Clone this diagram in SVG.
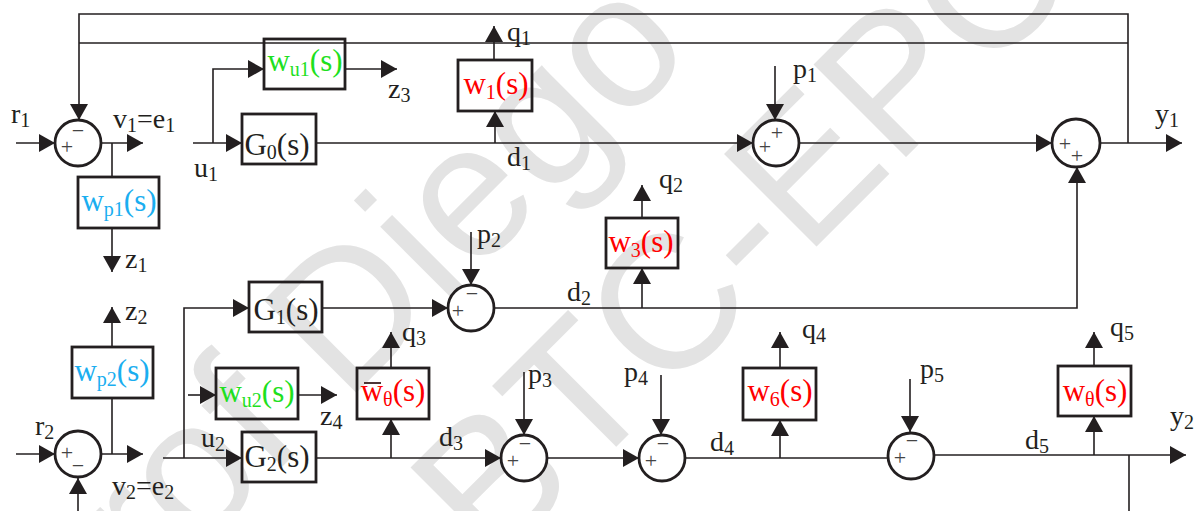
<svg xmlns="http://www.w3.org/2000/svg" width="1194" height="511" viewBox="0 0 1194 511">
<defs>
<style>
.wm{font-family:"Liberation Sans",Arial,sans-serif;font-size:190px;fill:#e3e3e3}
.ln{fill:none;stroke:#231f20;stroke-width:1.6}
.bx{fill:none;stroke:#231f20;stroke-width:2.8}
.sm{fill:#fff;stroke:#231f20;stroke-width:2.8}
.t{font-family:"Liberation Serif","Times New Roman",serif;font-size:28px;fill:#231f20}
.bt{font-family:"Liberation Serif","Times New Roman",serif;font-size:31px;text-anchor:middle}
.s{font-size:20px}
.sg{font-family:"Liberation Serif",serif;font-size:22px;fill:#444;text-anchor:middle;dominant-baseline:central}
.red{fill:#ff0000}.grn{fill:#1ee01e}.cyn{fill:#1aaef0}.blk{fill:#231f20}
</style>
<marker id="ah" markerUnits="userSpaceOnUse" viewBox="0 0 16 18" markerWidth="16" markerHeight="18" refX="16" refY="9" orient="auto"><path d="M0,0 L16,9 L0,18 z" fill="#231f20"/></marker>
</defs>
<rect width="1194" height="511" fill="#fff"/>
<g id="watermark">
<text class="wm" transform="translate(345,404) rotate(-45)" x="-401">Prof Diego</text>
<text class="wm" transform="translate(492,571) rotate(-45)">BTC-EPC</text>
</g>
<g id="connectors" class="ln" marker-end="url(#ah)">
<path d="M1128,143 V14 H79 V120"/>
<path d="M1128,43 H79" marker-end="none"/>
<path d="M16,143 H55"/>
<path d="M101,143 H143"/>
<path d="M112,143 V177" marker-end="none"/>
<path d="M112,228 V272"/>
<path d="M193,143 H242"/>
<path d="M213,143 V69 H264"/>
<path d="M345,69 H397"/>
<path d="M316,143 H753"/>
<path d="M495,143 V111"/>
<path d="M494,60 V26"/>
<path d="M775,66 V120"/>
<path d="M799,143 H1052"/>
<path d="M1100,143 H1182"/>
<path d="M184,458 V308 H249"/>
<path d="M322,308 H448"/>
<path d="M471,232 V285"/>
<path d="M494,308 H1077 V167"/>
<path d="M642,308 V268"/>
<path d="M642,218 V185"/>
<path d="M16,454 H55"/>
<path d="M101,454 H143"/>
<path d="M78,511 V478"/>
<path d="M112,454 V398" marker-end="none"/>
<path d="M112,347 V307"/>
<path d="M163,458 H242"/>
<path d="M188,395 H216"/>
<path d="M298,395 H337"/>
<path d="M316,458 H501"/>
<path d="M391,458 V419"/>
<path d="M391,368 V332"/>
<path d="M524,372 V435"/>
<path d="M547,458 H639"/>
<path d="M661,375 V435"/>
<path d="M685,458 H888" marker-end="none"/>
<path d="M780,458 V420"/>
<path d="M780,368 V332"/>
<path d="M910,379 V432"/>
<path d="M934,455 H1186"/>
<path d="M1094,455 V416"/>
<path d="M1094,366 V332"/>
<path d="M1129,455 V511" marker-end="none"/>
</g>
<g id="sum1"><circle class="sm" cx="78" cy="143" r="23"/><text class="sg" x="67" y="146">+</text><text class="sg" x="78" y="130">−</text></g>
<g id="sumP1"><circle class="sm" cx="776" cy="143" r="23"/><text class="sg" x="765" y="146">+</text><text class="sg" x="777" y="132">+</text></g>
<g id="sumY1"><circle class="sm" cx="1076" cy="143" r="24"/><text class="sg" x="1065" y="143">+</text><text class="sg" x="1077" y="155">+</text></g>
<g id="sumP2"><circle class="sm" cx="471" cy="308" r="23"/><text class="sg" x="458" y="310">+</text><text class="sg" x="472" y="293">−</text></g>
<g id="sum2"><circle class="sm" cx="78" cy="454" r="23"/><text class="sg" x="67" y="452">+</text><text class="sg" x="78" y="465">−</text></g>
<g id="sumP3"><circle class="sm" cx="524" cy="458" r="23"/><text class="sg" x="513" y="460">+</text><text class="sg" x="525" y="443">−</text></g>
<g id="sumP4"><circle class="sm" cx="662" cy="458" r="23"/><text class="sg" x="651" y="460">+</text><text class="sg" x="663" y="443">−</text></g>
<g id="sumP5"><circle class="sm" cx="911" cy="456" r="23"/><text class="sg" x="900" y="457">+</text><text class="sg" x="912" y="440">−</text></g>
<g id="G0"><rect class="bx" x="242" y="114" width="74" height="50"/><text class="bt blk" x="277" y="155">G<tspan class="s" dy="4">0</tspan><tspan dy="-4">(s)</tspan></text></g>
<g id="wu1"><rect class="bx" x="264" y="39" width="81" height="50"/><text class="bt grn" x="305" y="71">w<tspan class="s" dy="5">u1</tspan><tspan dy="-5">(s)</tspan></text></g>
<g id="wp1"><rect class="bx" x="78" y="177" width="81" height="51"/><text class="bt cyn" x="119" y="211">w<tspan class="s" dy="5">p1</tspan><tspan dy="-5">(s)</tspan></text></g>
<g id="w1"><rect class="bx" x="458" y="60" width="74" height="51"/><text class="bt red" x="496" y="94">w<tspan class="s" dy="5">1</tspan><tspan dy="-5">(s)</tspan></text></g>
<g id="w3"><rect class="bx" x="606" y="218" width="72" height="50"/><text class="bt red" x="641" y="252">w<tspan class="s" dy="5">3</tspan><tspan dy="-5">(s)</tspan></text></g>
<g id="G1"><rect class="bx" x="249" y="282" width="73" height="50"/><text class="bt blk" x="286" y="320">G<tspan class="s" dy="4">1</tspan><tspan dy="-4">(s)</tspan></text></g>
<g id="wp2"><rect class="bx" x="72" y="347" width="81" height="51"/><text class="bt cyn" x="112" y="381">w<tspan class="s" dy="5">p2</tspan><tspan dy="-5">(s)</tspan></text></g>
<g id="wu2"><rect class="bx" x="216" y="368" width="82" height="51"/><text class="bt grn" x="257" y="402">w<tspan class="s" dy="5">u2</tspan><tspan dy="-5">(s)</tspan></text></g>
<g id="G2"><rect class="bx" x="242" y="432" width="74" height="50"/><text class="bt blk" x="277" y="467">G<tspan class="s" dy="4">2</tspan><tspan dy="-4">(s)</tspan></text></g>
<g id="wbar"><rect class="bx" x="357" y="368" width="72" height="51"/><text class="bt red" x="393" y="401">w<tspan class="s" dy="5">θ</tspan><tspan dy="-5">(s)</tspan></text><line x1="364" y1="383" x2="381" y2="383" stroke="#3a2020" stroke-width="1.8"/></g>
<g id="w6"><rect class="bx" x="743" y="368" width="73" height="52"/><text class="bt red" x="780" y="401">w<tspan class="s" dy="5">6</tspan><tspan dy="-5">(s)</tspan></text></g>
<g id="wth"><rect class="bx" x="1058" y="366" width="73" height="50"/><text class="bt red" x="1095" y="401">w<tspan class="s" dy="5">θ</tspan><tspan dy="-5">(s)</tspan></text></g>
<g id="labels">
<text class="t" x="11" y="123">r<tspan class="s" dy="4">1</tspan></text>
<text class="t" x="113" y="128">v<tspan class="s" dy="4">1</tspan><tspan dy="-4">=e</tspan><tspan class="s" dy="4">1</tspan></text>
<text class="t" x="125" y="268">z<tspan class="s" dy="4">1</tspan></text>
<text class="t" x="194" y="177">u<tspan class="s" dy="4">1</tspan></text>
<text class="t" x="388" y="98">z<tspan class="s" dy="4">3</tspan></text>
<text class="t" x="507" y="41">q<tspan class="s" dy="4">1</tspan></text>
<text class="t" x="507" y="166">d<tspan class="s" dy="4">1</tspan></text>
<text class="t" x="793" y="78">p<tspan class="s" dy="4">1</tspan></text>
<text class="t" x="1155" y="123">y<tspan class="s" dy="4">1</tspan></text>
<text class="t" x="659" y="188">q<tspan class="s" dy="4">2</tspan></text>
<text class="t" x="477" y="243">p<tspan class="s" dy="4">2</tspan></text>
<text class="t" x="567" y="301">d<tspan class="s" dy="4">2</tspan></text>
<text class="t" x="125" y="320">z<tspan class="s" dy="4">2</tspan></text>
<text class="t" x="402" y="341">q<tspan class="s" dy="4">3</tspan></text>
<text class="t" x="35" y="435">r<tspan class="s" dy="4">2</tspan></text>
<text class="t" x="201" y="447">u<tspan class="s" dy="4">2</tspan></text>
<text class="t" x="320" y="425">z<tspan class="s" dy="4">4</tspan></text>
<text class="t" x="112" y="495">v<tspan class="s" dy="4">2</tspan><tspan dy="-4">=e</tspan><tspan class="s" dy="4">2</tspan></text>
<text class="t" x="439" y="446">d<tspan class="s" dy="4">3</tspan></text>
<text class="t" x="528" y="383">p<tspan class="s" dy="4">3</tspan></text>
<text class="t" x="624" y="381">p<tspan class="s" dy="4">4</tspan></text>
<text class="t" x="710" y="451">d<tspan class="s" dy="4">4</tspan></text>
<text class="t" x="802" y="338">q<tspan class="s" dy="4">4</tspan></text>
<text class="t" x="920" y="378">p<tspan class="s" dy="4">5</tspan></text>
<text class="t" x="1025" y="449">d<tspan class="s" dy="4">5</tspan></text>
<text class="t" x="1110" y="336">q<tspan class="s" dy="4">5</tspan></text>
<text class="t" x="1170" y="425">y<tspan class="s" dy="4">2</tspan></text>
</g>
</svg>
